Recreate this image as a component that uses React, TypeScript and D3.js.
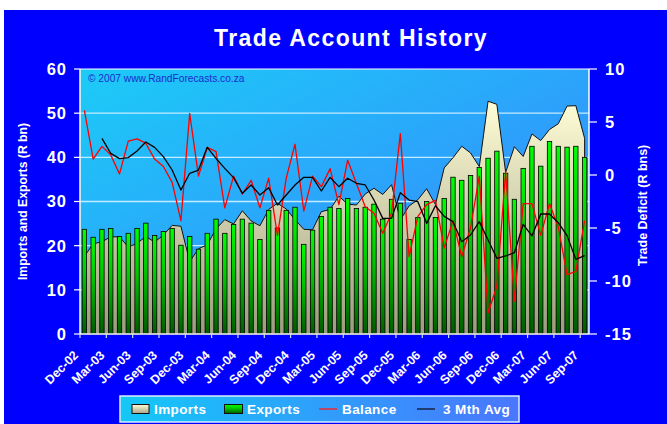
import React, { useEffect, useRef } from 'react';
import * as d3 from 'd3';

// monthly categories Dec-02 .. Sep-07
const months = [
  'Dec-02', 'Jan-03', 'Feb-03', 'Mar-03', 'Apr-03', 'May-03', 'Jun-03', 'Jul-03', 'Aug-03', 'Sep-03', 'Oct-03', 'Nov-03',
  'Dec-03', 'Jan-04', 'Feb-04', 'Mar-04', 'Apr-04', 'May-04', 'Jun-04', 'Jul-04', 'Aug-04', 'Sep-04', 'Oct-04', 'Nov-04',
  'Dec-04', 'Jan-05', 'Feb-05', 'Mar-05', 'Apr-05', 'May-05', 'Jun-05', 'Jul-05', 'Aug-05', 'Sep-05', 'Oct-05', 'Nov-05',
  'Dec-05', 'Jan-06', 'Feb-06', 'Mar-06', 'Apr-06', 'May-06', 'Jun-06', 'Jul-06', 'Aug-06', 'Sep-06', 'Oct-06', 'Nov-06',
  'Dec-06', 'Jan-07', 'Feb-07', 'Mar-07', 'Apr-07', 'May-07', 'Jun-07', 'Jul-07', 'Aug-07', 'Sep-07',
];

const xTickLabels = [
  'Dec-02', 'Mar-03', 'Jun-03', 'Sep-03', 'Dec-03', 'Mar-04', 'Jun-04', 'Sep-04', 'Dec-04', 'Mar-05',
  'Jun-05', 'Sep-05', 'Dec-05', 'Mar-06', 'Jun-06', 'Sep-06', 'Dec-06', 'Mar-07', 'Jun-07', 'Sep-07',
];

// R bn
const imports = [
  17.6, 20.4, 20.9, 22.0, 22.0, 19.7, 20.5, 22.1, 20.8, 22.4, 24.6, 24.4,
  16.4, 19.3, 20.2, 23.8, 25.9, 24.9, 27.9, 25.6, 24.5, 28.2, 29.6, 28.3,
  25.9, 23.7, 23.6, 27.7, 28.2, 31.2, 29.4, 29.2, 31.7, 33.0, 31.6, 33.8,
  25.8, 29.0, 30.4, 32.9, 29.3, 37.6, 39.9, 42.5, 41.0, 37.9, 52.7, 52.0,
  36.6, 42.4, 40.2, 45.3, 43.8, 46.3, 47.6, 51.6, 51.7, 44.3,
];

const exportsData = [
  23.7, 21.9, 23.7, 23.9, 22.1, 22.8, 23.9, 25.1, 22.3, 23.2, 23.9, 20.1,
  22.1, 19.2, 22.8, 26.0, 22.8, 24.8, 26.0, 25.1, 21.4, 28.0, 24.0, 28.0,
  28.7, 20.3, 23.5, 26.6, 28.7, 28.4, 30.7, 28.4, 28.7, 29.4, 26.0, 30.5,
  29.6, 21.4, 26.4, 30.0, 26.4, 30.7, 35.5, 34.8, 35.9, 37.7, 39.8, 41.4,
  36.4, 30.5, 37.5, 42.5, 38.0, 43.6, 42.5, 42.3, 42.5, 40.0,
];

// R bns, right axis
const balance = [
  6.1, 1.5, 2.7, 1.9, 0.1, 3.2, 3.4, 3.0, 1.5, 0.8, -0.7, -4.3,
  5.8, -0.1, 2.6, 2.2, -3.1, -0.1, -1.8, -0.5, -3.1, -0.3, -5.7, -0.3,
  2.9, -3.4, -0.1, -1.1, 0.6, -2.8, 1.4, -0.8, -3.0, -3.6, -5.5, -3.6,
  3.9, -7.7, -3.9, -2.8, -2.4, -6.9, -4.3, -7.7, -5.0, -0.1, -13.0, -10.5,
  0.3, -11.9, -2.7, -2.7, -5.7, -2.7, -4.9, -9.4, -9.1, -4.3,
];

const avg3 = [
  null, null, 3.46, 2.04, 1.54, 1.64, 2.26, 3.11, 2.61, 1.73, 0.47, -1.42,
  0.16, 0.47, 2.61, 1.57, 0.63, -0.25, -1.73, -0.94, -1.89, -1.2, -2.83, -1.89,
  -0.94, -0.22, -0.22, -1.51, -0.22, -1.1, -0.31, -0.78, -0.94, -2.36, -4.09, -4.09,
  -1.67, -2.36, -2.52, -4.56, -2.9, -3.9, -4.4, -6.29, -5.66, -4.4, -6.13, -7.86,
  -7.64, -7.33, -4.65, -5.75, -3.68, -3.68, -4.5, -5.72, -7.96, -7.61,
];

const leftTicks = [0, 10, 20, 30, 40, 50, 60];
const rightTicks = [-15, -10, -5, 0, 5, 10];

const FONT = '"Liberation Sans", Arial, sans-serif';

const TradeChart = () => {
  const ref = useRef<SVGSVGElement>(null);

  useEffect(() => {
    const svg = d3.select(ref.current);
    svg.selectAll('*').remove();

    const width = 667;
    const height = 424;
    const plot = { left: 80, right: 589, top: 69, bottom: 334 };

    const x = d3.scaleBand<string>().domain(months).range([plot.left, plot.right]).padding(0);
    const yL = d3.scaleLinear().domain([0, 60]).range([plot.bottom, plot.top]);
    const yR = d3.scaleLinear().domain([-15, 10]).range([plot.bottom, plot.top]);
    const bw = x.bandwidth();
    const cx = (i: number) => (x(months[i]) as number) + bw / 2;

    const defs = svg.append('defs');
    const plotGrad = defs.append('linearGradient').attr('id', 'plotBg')
      .attr('x1', 0).attr('y1', 0).attr('x2', 1).attr('y2', 1);
    plotGrad.append('stop').attr('offset', 0).attr('stop-color', '#1ccbf7');
    plotGrad.append('stop').attr('offset', 1).attr('stop-color', '#3a7eff');

    const legGrad = defs.append('linearGradient').attr('id', 'legBg')
      .attr('x1', 0).attr('y1', 0).attr('x2', 1).attr('y2', 0);
    legGrad.append('stop').attr('offset', 0).attr('stop-color', '#14c8f8');
    legGrad.append('stop').attr('offset', 1).attr('stop-color', '#4a76ff');

    const impGrad = defs.append('linearGradient').attr('id', 'impFill')
      .attr('gradientUnits', 'userSpaceOnUse')
      .attr('x1', 0).attr('y1', 100).attr('x2', 0).attr('y2', plot.bottom);
    impGrad.append('stop').attr('offset', 0).attr('stop-color', '#fffed6');
    impGrad.append('stop').attr('offset', 1).attr('stop-color', '#9e9c80');

    const impSw = defs.append('linearGradient').attr('id', 'impSwatch')
      .attr('x1', 0).attr('y1', 0).attr('x2', 0).attr('y2', 1);
    impSw.append('stop').attr('offset', 0).attr('stop-color', '#fffed6');
    impSw.append('stop').attr('offset', 1).attr('stop-color', '#a8a688');

    const barGrad = defs.append('linearGradient').attr('id', 'barFill')
      .attr('x1', 0).attr('y1', 0).attr('x2', 0).attr('y2', 1);
    barGrad.append('stop').attr('offset', 0).attr('stop-color', '#00ff00');
    barGrad.append('stop').attr('offset', 0.45).attr('stop-color', '#00c400');
    barGrad.append('stop').attr('offset', 1).attr('stop-color', '#005a00');

    // frame
    svg.append('rect').attr('width', width).attr('height', height).attr('fill', '#ffffff');
    svg.append('rect').attr('x', 4).attr('y', 10).attr('width', width - 4).attr('height', height - 10)
      .attr('fill', '#0000ff');

    svg.append('text')
      .attr('x', 351).attr('y', 46)
      .attr('text-anchor', 'middle')
      .attr('fill', '#ffffff')
      .attr('font-family', FONT).attr('font-weight', 'bold').attr('font-size', 23)
      .attr('letter-spacing', 1.4)
      .text('Trade Account History');

    // plot area
    svg.append('rect')
      .attr('x', plot.left).attr('y', plot.top)
      .attr('width', plot.right - plot.left).attr('height', plot.bottom - plot.top)
      .attr('fill', 'url(#plotBg)');

    svg.append('g').selectAll('line')
      .data(leftTicks.filter(t => t > 0 && t < 60))
      .join('line')
      .attr('x1', plot.left).attr('x2', plot.right)
      .attr('y1', d => yL(d)).attr('y2', d => yL(d))
      .attr('stroke', '#c4ecff').attr('stroke-width', 1.3);

    svg.append('text')
      .attr('x', 88).attr('y', 82)
      .attr('fill', '#1a2ccc')
      .attr('font-family', FONT).attr('font-size', 10.2)
      .text('\u00a9 2007 www.RandForecasts.co.za');

    // imports area
    const area = d3.area<number>()
      .x((_, i) => cx(i))
      .y0(yL(0))
      .y1(d => yL(d));
    svg.append('path')
      .datum(imports)
      .attr('d', area)
      .attr('fill', 'url(#impFill)')
      .attr('stroke', '#111111').attr('stroke-width', 1)
      .attr('stroke-linejoin', 'round');

    // exports bars
    svg.append('g').selectAll('rect')
      .data(exportsData)
      .join('rect')
      .attr('x', (_, i) => cx(i) - bw * 0.25)
      .attr('width', bw * 0.5)
      .attr('y', d => yL(d))
      .attr('height', d => yL(0) - yL(d))
      .attr('fill', 'url(#barFill)')
      .attr('stroke', '#000000').attr('stroke-width', 0.8);

    const balLine = d3.line<number>()
      .x((_, i) => cx(i))
      .y(d => yR(d));
    svg.append('path')
      .datum(balance)
      .attr('d', balLine)
      .attr('fill', 'none')
      .attr('stroke', '#ff0000').attr('stroke-width', 1.3)
      .attr('stroke-linejoin', 'round');

    const avgLine = d3.line<number | null>()
      .defined(d => d !== null)
      .x((_, i) => cx(i))
      .y(d => yR(d as number));
    svg.append('path')
      .datum(avg3)
      .attr('d', avgLine)
      .attr('fill', 'none')
      .attr('stroke', '#000000').attr('stroke-width', 1.3)
      .attr('stroke-linejoin', 'round');

    // axes
    const axisColor = '#ffffff';
    svg.append('line').attr('x1', plot.left).attr('x2', plot.right)
      .attr('y1', plot.top).attr('y2', plot.top).attr('stroke', axisColor).attr('stroke-width', 1.2);
    svg.append('line').attr('x1', plot.left).attr('x2', plot.left)
      .attr('y1', plot.top).attr('y2', plot.bottom).attr('stroke', axisColor).attr('stroke-width', 1.5);
    svg.append('line').attr('x1', plot.right).attr('x2', plot.right)
      .attr('y1', plot.top).attr('y2', plot.bottom).attr('stroke', axisColor).attr('stroke-width', 1.5);
    svg.append('line').attr('x1', plot.left).attr('x2', plot.right)
      .attr('y1', plot.bottom).attr('y2', plot.bottom).attr('stroke', axisColor).attr('stroke-width', 1.5);

    const left = svg.append('g');
    left.selectAll('line').data(leftTicks).join('line')
      .attr('x1', plot.left - 6).attr('x2', plot.left)
      .attr('y1', d => yL(d)).attr('y2', d => yL(d))
      .attr('stroke', axisColor).attr('stroke-width', 1.2);
    left.selectAll('text').data(leftTicks).join('text')
      .attr('x', 67).attr('y', d => yL(d)).attr('dy', '0.36em')
      .attr('text-anchor', 'end')
      .attr('fill', '#ffffff')
      .attr('font-family', FONT).attr('font-weight', 'bold').attr('font-size', 16.5)
      .attr('letter-spacing', 1)
      .text(d => String(d));

    const right = svg.append('g');
    right.selectAll('line').data(rightTicks).join('line')
      .attr('x1', plot.right).attr('x2', plot.right + 8)
      .attr('y1', d => yR(d)).attr('y2', d => yR(d))
      .attr('stroke', axisColor).attr('stroke-width', 1.2);
    right.selectAll('text').data(rightTicks).join('text')
      .attr('x', 605).attr('y', d => yR(d)).attr('dy', '0.36em')
      .attr('fill', '#ffffff')
      .attr('font-family', FONT).attr('font-weight', 'bold').attr('font-size', 16.5)
      .attr('letter-spacing', 1)
      .text(d => String(d));

    const bottom = svg.append('g');
    bottom.selectAll('line').data(xTickLabels).join('line')
      .attr('x1', d => x(d) as number).attr('x2', d => x(d) as number)
      .attr('y1', plot.bottom).attr('y2', plot.bottom + 4)
      .attr('stroke', '#c8e0ff').attr('stroke-width', 1.2);
    bottom.selectAll('text').data(xTickLabels).join('text')
      .attr('transform', d => `translate(${(x(d) as number) - 1},356) rotate(-45)`)
      .attr('text-anchor', 'end')
      .attr('fill', '#ffffff')
      .attr('font-family', FONT).attr('font-weight', 'bold').attr('font-size', 12.5)
      .text(d => d);

    svg.append('text')
      .attr('transform', `translate(27,${(plot.top + plot.bottom) / 2}) rotate(-90)`)
      .attr('text-anchor', 'middle')
      .attr('fill', '#ffffff')
      .attr('font-family', FONT).attr('font-weight', 'bold').attr('font-size', 12.2)
      .text('Imports and Exports (R bn)');

    svg.append('text')
      .attr('transform', `translate(647,${(plot.top + plot.bottom) / 2 + 4}) rotate(-90)`)
      .attr('text-anchor', 'middle')
      .attr('fill', '#ffffff')
      .attr('font-family', FONT).attr('font-weight', 'bold').attr('font-size', 12.5)
      .text('Trade Deficit (R bns)');

    // legend
    const leg = svg.append('g');
    leg.append('rect')
      .attr('x', 120).attr('y', 396).attr('width', 399).attr('height', 26)
      .attr('fill', 'url(#legBg)')
      .attr('stroke', '#dceeff').attr('stroke-width', 1.5);
    const ly = 409;
    leg.append('rect').attr('x', 132).attr('y', ly - 4.5).attr('width', 17).attr('height', 9)
      .attr('fill', 'url(#impSwatch)').attr('stroke', '#111111').attr('stroke-width', 1);
    leg.append('rect').attr('x', 224.5).attr('y', ly - 4.5).attr('width', 18).attr('height', 9)
      .attr('fill', 'url(#barFill)').attr('stroke', '#111111').attr('stroke-width', 1);
    leg.append('line').attr('x1', 319).attr('x2', 337).attr('y1', ly).attr('y2', ly)
      .attr('stroke', '#e03040').attr('stroke-width', 1.6);
    leg.append('line').attr('x1', 417).attr('x2', 435).attr('y1', ly).attr('y2', ly)
      .attr('stroke', '#1a2850').attr('stroke-width', 1.6);
    const legendItems = [
      { label: 'Imports', x: 154 },
      { label: 'Exports', x: 247 },
      { label: 'Balance', x: 342 },
      { label: '3 Mth Avg', x: 443 },
    ];
    leg.selectAll('text.lab').data(legendItems).join('text')
      .attr('class', 'lab')
      .attr('x', d => d.x).attr('y', ly).attr('dy', '0.36em')
      .attr('fill', '#ffffff')
      .attr('font-family', FONT).attr('font-weight', 'bold').attr('font-size', 13.5)
      .attr('letter-spacing', 0.4)
      .text(d => d.label);
  }, []);

  return (
    <svg
      ref={ref}
      width={667}
      height={424}
      style={{ position: 'absolute', left: 0, top: 0, display: 'block' }}
    />
  );
};

export default function App() {
  return <TradeChart />;
}
